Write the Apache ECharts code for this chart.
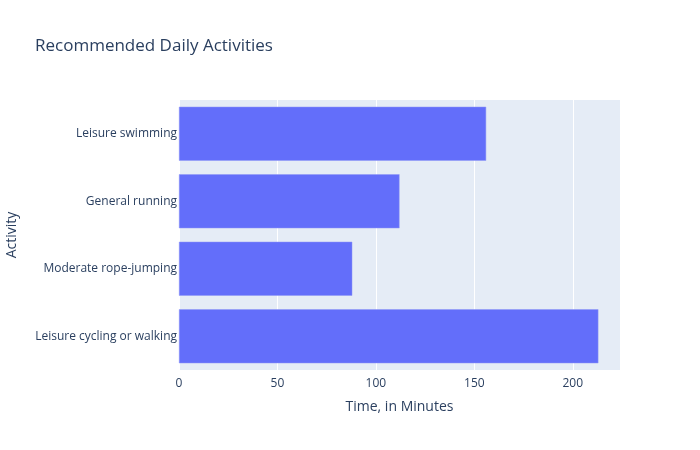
<!DOCTYPE html>
<html>
<head>
<meta charset="utf-8">
<script src="https://cdn.jsdelivr.net/npm/echarts@6/dist/echarts.min.js"></script>
<style>html,body{margin:0;padding:0;background:#fff}#c{width:700px;height:450px}</style>
</head>
<body>
<div id="c"></div>
<script>
const categories = ["Leisure cycling or walking", "Moderate rope-jumping", "General running", "Leisure swimming"];
const minutes = [213, 88, 112, 156];
const xTicks = [0, 50, 100, 150, 200];
const titleText = "Recommended Daily Activities";
const xTitle = "Time, in Minutes";
const yTitle = "Activity";

const font = '"Open Sans", "Noto Sans", sans-serif';
const chart = echarts.init(document.getElementById('c'), null, {renderer: 'canvas'});
chart.setOption({
  animation: false,
  backgroundColor: '#fff',
  textStyle: {fontFamily: font, color: '#2a3f5f'},
  title: {
    text: titleText, left: 30, top: 33,
    textStyle: {fontFamily: font, fontSize: 17, fontWeight: 'normal', color: '#2a3f5f'}
  },
  grid: {left: 179, right: 80, top: 100, bottom: 80, show: true, backgroundColor: '#E5ECF6', borderWidth: 0,
    containLabel: false, outerBoundsMode: 'none'},
  xAxis: {
    type: 'value', min: 0, max: 224, interval: 50,
    name: xTitle, nameLocation: 'middle', nameGap: 30,
    nameTextStyle: {fontFamily: font, fontSize: 14, color: '#2a3f5f'},
    axisLine: {show: false}, axisTick: {show: false},
    axisLabel: {fontFamily: font, fontSize: 12, color: '#2a3f5f', margin: 8, showMaxLabel: false,
      formatter: v => xTicks.includes(v) ? String(v) : ''},
    splitLine: {show: true, lineStyle: {color: '#fff', width: 1}}
  },
  yAxis: {
    type: 'category', data: categories,
    name: yTitle, nameLocation: 'middle', nameGap: 160, nameRotate: 90,
    nameTextStyle: {fontFamily: font, fontSize: 14, color: '#2a3f5f'},
    axisLine: {show: false}, axisTick: {show: false},
    axisLabel: {fontFamily: font, fontSize: 12, color: '#2a3f5f', margin: 2},
    splitLine: {show: false}
  },
  series: [{
    type: 'bar', data: minutes, barCategoryGap: '20%',
    itemStyle: {color: '#636efa', borderColor: '#8f96f7', borderWidth: 0.5}
  }]
});
</script>
</body>
</html>
